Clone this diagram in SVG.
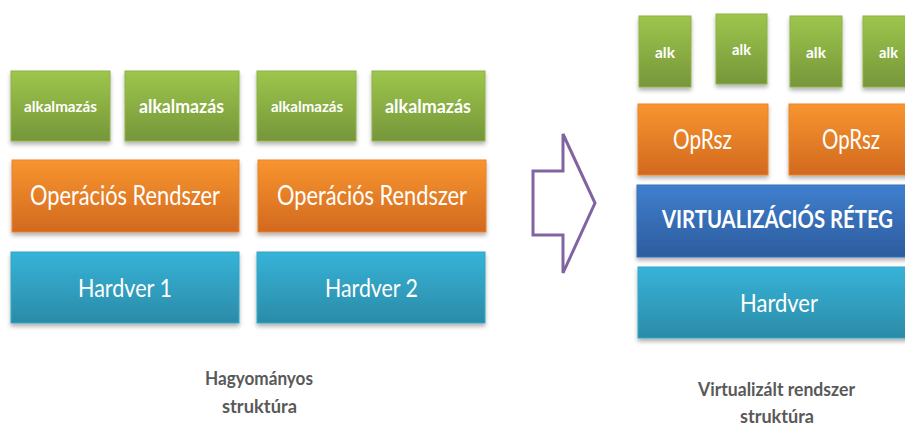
<svg xmlns="http://www.w3.org/2000/svg" width="905" height="426" viewBox="0 0 905 426">
<defs>
<linearGradient id="gG" x1="0" y1="0" x2="0" y2="1"><stop offset="0" stop-color="#9DC64C"/><stop offset="1" stop-color="#76963A"/></linearGradient>
<linearGradient id="gO" x1="0" y1="0" x2="0" y2="1"><stop offset="0" stop-color="#F8952F"/><stop offset="1" stop-color="#D2691F"/></linearGradient>
<linearGradient id="gB" x1="0" y1="0" x2="0" y2="1"><stop offset="0" stop-color="#37B3D8"/><stop offset="1" stop-color="#2B8BA7"/></linearGradient>
<linearGradient id="gV" x1="0" y1="0" x2="0" y2="1"><stop offset="0" stop-color="#3F7FCE"/><stop offset="1" stop-color="#2D5C9E"/></linearGradient>
<filter id="sh" x="-10%" y="-10%" width="120%" height="130%"><feDropShadow dx="0" dy="3" stdDeviation="2" flood-color="#000" flood-opacity="0.3"/></filter>
</defs>
<style>
.box{filter:url(#sh);stroke-width:1}
.g{fill:url(#gG);stroke:#8DB244}
.o{fill:url(#gO);stroke:#E8832B}
.b{fill:url(#gB);stroke:#34A5C6}
.v{fill:url(#gV);stroke:#3670B8}
text{font-family:Lato,"Open Sans","Liberation Sans",sans-serif;fill:#fff}
.bold{font-weight:bold}
.cap{fill:#595959;font-weight:bold;font-size:19px}
</style>
<rect width="905" height="426" fill="#fff"/>
<g id="connectors">
<path d="M533,171 L563,171 L563,134 L595,203 L563,273 L563,235 L533,235 Z" fill="none" stroke="#8064A2" stroke-width="3"/>
</g>
<g id="app1"><rect class="box g" x="11" y="71" width="99" height="70"/><text class="bold" x="24" y="112" font-size="15" textLength="73" lengthAdjust="spacingAndGlyphs">alkalmazás</text></g>
<g id="app2"><rect class="box g" x="125" y="71" width="114" height="70"/><text class="bold" x="139" y="113" font-size="19" textLength="85" lengthAdjust="spacingAndGlyphs">alkalmazás</text></g>
<g id="app3"><rect class="box g" x="257" y="71" width="99" height="70"/><text class="bold" x="271" y="112" font-size="15" textLength="72" lengthAdjust="spacingAndGlyphs">alkalmazás</text></g>
<g id="app4"><rect class="box g" x="372" y="71" width="113" height="70"/><text class="bold" x="385" y="113" font-size="19" textLength="86" lengthAdjust="spacingAndGlyphs">alkalmazás</text></g>
<g id="os1"><rect class="box o" x="12" y="160" width="227" height="72"/><text x="30" y="205" font-size="27" textLength="190" lengthAdjust="spacingAndGlyphs">Operációs Rendszer</text></g>
<g id="os2"><rect class="box o" x="258" y="160" width="228" height="72"/><text x="277" y="205" font-size="27" textLength="190" lengthAdjust="spacingAndGlyphs">Operációs Rendszer</text></g>
<g id="hw1"><rect class="box b" x="11" y="252" width="228" height="71"/><text x="78" y="297" font-size="25" textLength="94" lengthAdjust="spacingAndGlyphs">Hardver 1</text></g>
<g id="hw2"><rect class="box b" x="257" y="252" width="228" height="71"/><text x="325" y="297" font-size="25" textLength="93" lengthAdjust="spacingAndGlyphs">Hardver 2</text></g>
<g id="alk1"><rect class="box g" x="639" y="16" width="52" height="71"/><text class="bold" x="655" y="58" font-size="16" textLength="20" lengthAdjust="spacingAndGlyphs">alk</text></g>
<g id="alk2"><rect class="box g" x="716" y="14" width="51" height="70"/><text class="bold" x="732" y="55" font-size="16" textLength="19" lengthAdjust="spacingAndGlyphs">alk</text></g>
<g id="alk3"><rect class="box g" x="790" y="16" width="52" height="71"/><text class="bold" x="806" y="58" font-size="16" textLength="20" lengthAdjust="spacingAndGlyphs">alk</text></g>
<g id="alk4"><rect class="box g" x="863" y="16" width="52" height="71"/><text class="bold" x="879" y="58" font-size="16" textLength="19" lengthAdjust="spacingAndGlyphs">alk</text></g>
<g id="opr1"><rect class="box o" x="638" y="104" width="130" height="71"/><text x="673" y="149" font-size="26" textLength="59" lengthAdjust="spacingAndGlyphs">OpRsz</text></g>
<g id="opr2"><rect class="box o" x="789" y="104" width="126" height="71"/><text x="822" y="149" font-size="26" textLength="58" lengthAdjust="spacingAndGlyphs">OpRsz</text></g>
<g id="virt"><rect class="box v" x="637" y="185" width="283" height="72"/><text class="bold" x="662" y="228" font-size="25" textLength="231" lengthAdjust="spacingAndGlyphs">VIRTUALIZÁCIÓS RÉTEG</text></g>
<g id="hw"><rect class="box b" x="638" y="267" width="282" height="71"/><text x="740" y="312" font-size="25" textLength="78" lengthAdjust="spacingAndGlyphs">Hardver</text></g>
<g id="cap1"><text class="cap" x="205" y="385" textLength="108" lengthAdjust="spacingAndGlyphs">Hagyományos</text><text class="cap" x="222" y="413" textLength="75" lengthAdjust="spacingAndGlyphs">struktúra</text></g>
<g id="cap2"><text class="cap" x="698" y="396" textLength="157" lengthAdjust="spacingAndGlyphs">Virtualizált rendszer</text><text class="cap" x="740" y="423" textLength="74" lengthAdjust="spacingAndGlyphs">struktúra</text></g>
</svg>
